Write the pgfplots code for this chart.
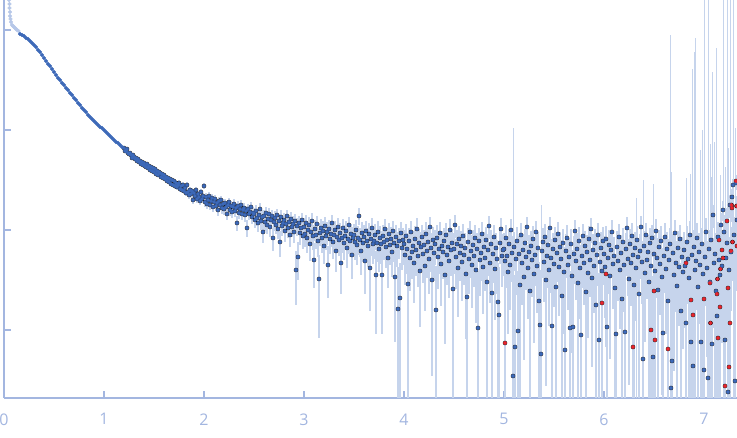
\documentclass[border=0pt]{standalone}
\usepackage{fontspec}
\setmainfont{Open Sans}
\usepackage{pgfplots}
\usepackage{pgfplotstable}
\pgfplotsset{compat=1.18}

\definecolor{axisc}{HTML}{A3B6E0}
\definecolor{ptblue}{HTML}{3D69B8}
\definecolor{ebar}{HTML}{C6D4EC}
\definecolor{faded}{HTML}{B6C7E8}
\definecolor{ptred}{HTML}{E5272F}

% log10 intensity; s = log10 of the error
\pgfplotstableread{
q l
0.050 0.30
0.055 0.26
0.055 0.22
0.060 0.18
0.060 0.14
0.065 0.11
0.070 0.08
0.080 0.05
0.090 0.04
0.100 0.03
0.110 0.02
0.120 0.01
0.130 0.00
0.145 -0.01
}\faded

\pgfplotstableread{
q l
0.16 -0.04
0.18 -0.05
0.20 -0.06
0.22 -0.08
0.24 -0.09
0.26 -0.11
0.28 -0.13
0.30 -0.15
0.32 -0.17
0.34 -0.20
0.36 -0.22
0.38 -0.25
0.40 -0.28
0.42 -0.31
0.44 -0.34
0.46 -0.36
0.48 -0.39
0.50 -0.42
0.52 -0.45
0.54 -0.48
0.56 -0.50
0.58 -0.53
0.60 -0.55
0.62 -0.58
0.64 -0.60
0.66 -0.63
0.68 -0.65
0.70 -0.68
0.72 -0.70
0.74 -0.73
0.76 -0.75
0.78 -0.78
0.80 -0.80
0.82 -0.82
0.84 -0.85
0.86 -0.87
0.88 -0.89
0.90 -0.91
0.92 -0.93
0.94 -0.95
0.96 -0.97
0.98 -0.98
1.00 -1.00
1.02 -1.02
1.04 -1.04
1.06 -1.06
1.08 -1.08
1.10 -1.10
1.12 -1.12
1.14 -1.13
1.16 -1.15
1.18 -1.17
}\lowq

\pgfplotstableread{
q l s
1.20 -1.18 -3.00
1.21 -1.21 -3.00
1.22 -1.21 -3.00
1.23 -1.19 -3.00
1.24 -1.23 -3.00
1.25 -1.24 -3.00
1.26 -1.23 -3.00
1.27 -1.25 -3.00
1.28 -1.28 -3.00
1.29 -1.25 -3.00
1.30 -1.27 -3.00
1.31 -1.29 -3.00
1.32 -1.28 -3.00
1.33 -1.31 -3.00
1.34 -1.29 -3.00
1.35 -1.32 -3.00
1.36 -1.31 -3.00
1.37 -1.34 -3.00
1.38 -1.32 -3.00
1.39 -1.35 -3.00
1.40 -1.33 -2.85
1.41 -1.36 -2.85
1.42 -1.37 -2.85
1.43 -1.34 -2.85
1.44 -1.38 -2.85
1.45 -1.36 -2.85
1.46 -1.40 -2.85
1.47 -1.37 -2.85
1.48 -1.41 -2.85
1.49 -1.38 -2.85
1.50 -1.42 -2.85
1.51 -1.39 -2.85
1.52 -1.44 -2.85
1.53 -1.41 -2.85
1.54 -1.45 -2.85
1.55 -1.42 -2.85
1.56 -1.43 -2.85
1.57 -1.47 -2.85
1.58 -1.44 -2.85
1.59 -1.48 -2.85
1.60 -1.45 -2.85
1.61 -1.49 -2.85
1.62 -1.47 -2.85
1.63 -1.51 -2.85
1.64 -1.48 -2.85
1.65 -1.52 -2.85
1.66 -1.49 -2.85
1.67 -1.54 -2.85
1.68 -1.50 -2.85
1.69 -1.55 -2.85
1.70 -1.51 -2.75
1.71 -1.56 -2.75
1.72 -1.53 -2.75
1.73 -1.57 -2.75
1.74 -1.55 -2.75
1.75 -1.53 -2.75
1.76 -1.59 -2.75
1.77 -1.56 -2.75
1.78 -1.60 -2.75
1.79 -1.55 -2.75
1.80 -1.61 -2.75
1.81 -1.58 -2.75
1.82 -1.63 -2.75
1.83 -1.55 -2.75
1.84 -1.62 -2.75
1.85 -1.65 -2.75
1.86 -1.60 -2.75
1.87 -1.64 -2.75
1.88 -1.61 -2.75
1.89 -1.70 -2.75
1.90 -1.63 -2.75
1.91 -1.66 -2.75
1.92 -1.60 -2.75
1.93 -1.69 -2.75
1.94 -1.64 -2.75
1.95 -1.67 -2.75
1.96 -1.71 -2.75
1.97 -1.62 -2.75
1.98 -1.69 -2.75
1.99 -1.66 -2.75
2.00 -1.56 -2.70
2.01 -1.72 -2.70
2.02 -1.67 -2.70
2.03 -1.74 -2.70
2.04 -1.70 -2.70
2.05 -1.66 -2.70
2.06 -1.75 -2.70
2.07 -1.71 -2.70
2.08 -1.68 -2.70
2.09 -1.77 -2.70
2.10 -1.72 -2.70
2.11 -1.69 -2.70
2.12 -1.76 -2.70
2.13 -1.73 -2.70
2.14 -1.80 -2.70
2.15 -1.71 -2.70
2.16 -1.75 -2.70
2.17 -1.70 -2.70
2.18 -1.78 -2.70
2.19 -1.74 -2.70
2.20 -1.79 -2.70
2.21 -1.73 -2.70
2.22 -1.77 -2.70
2.23 -1.84 -2.70
2.24 -1.75 -2.70
2.25 -1.72 -2.70
2.26 -1.80 -2.70
2.27 -1.76 -2.70
2.28 -1.82 -2.70
2.29 -1.77 -2.70
2.30 -1.74 -2.70
2.31 -1.81 -2.70
2.32 -1.78 -2.70
2.33 -1.93 -2.70
2.34 -1.76 -2.70
2.35 -1.83 -2.70
2.36 -1.79 -2.70
2.37 -1.75 -2.70
2.38 -1.84 -2.70
2.39 -1.80 -2.70
2.40 -1.78 -2.70
2.41 -1.85 -2.70
2.42 -1.81 -2.70
2.43 -1.98 -2.70
2.44 -1.79 -2.70
2.45 -1.84 -2.70
2.46 -1.82 -2.70
2.47 -1.77 -2.70
2.48 -1.87 -2.70
2.49 -1.83 -2.70
2.50 -1.84 -2.66
2.51 -1.90 -2.66
2.52 -1.81 -2.66
2.53 -1.88 -2.66
2.54 -1.93 -2.66
2.55 -1.85 -2.66
2.56 -1.79 -2.66
2.57 -1.91 -2.66
2.58 -1.87 -2.66
2.59 -2.02 -2.66
2.60 -1.86 -2.66
2.61 -1.92 -2.66
2.62 -1.83 -2.66
2.63 -1.95 -2.66
2.64 -1.89 -2.66
2.65 -1.84 -2.66
2.66 -1.97 -2.66
2.67 -1.90 -2.66
2.68 -1.86 -2.66
2.69 -2.08 -2.66
2.70 -1.92 -2.66
2.71 -1.88 -2.66
2.72 -1.95 -2.66
2.73 -1.85 -2.66
2.74 -1.99 -2.66
2.75 -1.91 -2.66
2.76 -2.12 -2.66
2.77 -1.87 -2.66
2.78 -1.96 -2.66
2.79 -1.93 -2.66
2.80 -1.90 -2.66
2.81 -2.01 -2.66
2.82 -1.94 -2.66
2.83 -1.86 -2.66
2.84 -1.98 -2.66
2.85 -1.92 -2.66
2.86 -2.05 -2.66
2.87 -1.89 -2.66
2.88 -1.97 -2.66
2.89 -1.94 -2.66
2.90 -2.02 -2.66
2.91 -1.91 -2.66
2.92 -2.40 -2.66
2.93 -1.96 -2.66
2.94 -2.27 -2.66
2.95 -1.93 -2.66
2.96 -2.03 -2.66
2.97 -1.98 -2.66
2.98 -1.90 -2.66
2.99 -2.06 -2.66
3.00 -1.97 -2.62
3.01 -2.04 -2.62
3.02 -1.93 -2.62
3.03 -2.08 -2.62
3.04 -2.00 -2.62
3.05 -1.95 -2.62
3.06 -2.14 -2.62
3.07 -2.02 -2.62
3.08 -1.91 -2.62
3.09 -2.06 -2.62
3.10 -2.30 -2.62
3.11 -1.99 -2.62
3.12 -2.05 -2.62
3.13 -1.94 -2.62
3.14 -2.11 -2.62
3.15 -2.49 -2.62
3.16 -2.03 -2.62
3.17 -1.98 -2.62
3.18 -2.08 -2.62
3.19 -2.01 -2.62
3.20 -2.16 -2.62
3.21 -1.96 -2.62
3.22 -2.06 -2.62
3.23 -2.02 -2.62
3.24 -2.35 -2.62
3.25 -1.99 -2.62
3.26 -2.09 -2.62
3.27 -2.04 -2.62
3.28 -1.93 -2.62
3.29 -2.12 -2.62
3.30 -2.05 -2.62
3.31 -2.00 -2.62
3.32 -2.21 -2.62
3.33 -2.07 -2.62
3.34 -1.97 -2.62
3.35 -2.10 -2.62
3.36 -2.03 -2.62
3.37 -2.33 -2.62
3.38 -2.08 -2.62
3.39 -1.98 -2.62
3.40 -2.13 -2.62
3.41 -2.06 -2.62
3.42 -2.01 -2.62
3.43 -2.18 -2.62
3.44 -2.09 -2.62
3.45 -1.95 -2.62
3.46 -2.11 -2.62
3.47 -2.04 -2.62
3.48 -2.25 -2.62
3.49 -2.08 -2.62
3.50 -2.05 -2.58
3.51 -2.12 -2.58
3.52 -2.00 -2.58
3.53 -2.15 -2.58
3.54 -2.08 -2.58
3.55 -1.86 -2.58
3.56 -2.10 -2.58
3.57 -2.21 -2.58
3.58 -2.03 -2.58
3.59 -2.13 -2.58
3.60 -2.07 -2.58
3.61 -2.31 -2.58
3.62 -2.01 -2.58
3.63 -2.11 -2.58
3.64 -2.16 -2.58
3.65 -2.04 -2.58
3.66 -2.38 -2.58
3.67 -2.09 -2.58
3.68 -1.98 -2.58
3.69 -2.14 -2.58
3.70 -2.11 -2.58
3.71 -2.05 -2.58
3.72 -2.45 -2.58
3.73 -2.13 -2.58
3.74 -2.02 -2.58
3.75 -2.19 -2.58
3.76 -2.08 -2.58
3.77 -2.14 -2.58
3.78 -2.45 -2.58
3.79 -2.06 -2.58
3.80 -2.12 -2.58
3.81 -1.99 -2.58
3.82 -2.17 -2.58
3.83 -2.10 -2.58
3.84 -2.28 -2.58
3.85 -2.04 -2.58
3.86 -2.15 -2.58
3.87 -2.09 -2.58
3.88 -2.22 -2.58
3.89 -2.01 -2.58
3.90 -2.13 -2.58
3.91 -2.47 -2.58
3.92 -2.07 -2.58
3.93 -2.16 -2.58
3.94 -2.79 -2.58
3.95 -2.11 -2.58
3.96 -2.68 -2.58
3.97 -2.03 -2.58
3.98 -2.18 -2.58
3.99 -2.10 -2.58
4.00 -2.14 -2.55
4.01 -2.25 -2.55
4.02 -2.06 -2.55
4.03 -2.19 -2.55
4.04 -2.54 -2.55
4.05 -2.11 -2.55
4.06 -2.28 -2.55
4.07 -2.02 -2.55
4.08 -2.22 -2.55
4.09 -2.16 -2.55
4.10 -2.33 -2.55
4.11 -2.09 -2.55
4.12 -2.20 -2.55
4.13 -1.99 -2.55
4.14 -2.26 -2.55
4.15 -2.13 -2.55
4.16 -2.41 -2.55
4.17 -2.17 -2.55
4.18 -2.07 -2.55
4.19 -2.24 -2.55
4.20 -2.15 -2.55
4.21 -2.36 -2.55
4.22 -2.04 -2.55
4.23 -2.21 -2.55
4.24 -2.12 -2.55
4.25 -2.29 -2.55
4.26 -1.97 -2.55
4.27 -2.18 -2.55
4.28 -2.50 -2.55
4.29 -2.10 -2.55
4.30 -2.23 -2.55
4.31 -2.14 -2.55
4.32 -2.80 -2.55
4.33 -2.08 -2.55
4.34 -2.27 -2.55
4.35 -2.19 -2.55
4.36 -2.03 -2.55
4.37 -2.34 -2.55
4.38 -2.16 -2.55
4.39 -2.22 -2.55
4.40 -2.11 -2.55
4.41 -2.45 -2.55
4.42 -2.05 -2.55
4.43 -2.25 -2.55
4.44 -2.17 -2.55
4.45 -2.31 -2.55
4.46 -2.00 -2.55
4.47 -2.20 -2.55
4.48 -2.13 -2.55
4.49 -2.59 -2.55
4.50 -2.19 -2.55
4.51 -1.95 -2.55
4.52 -2.27 -2.55
4.53 -2.14 -2.55
4.54 -2.38 -2.55
4.55 -2.09 -2.55
4.56 -2.23 -2.55
4.57 -2.16 -2.55
4.58 -2.32 -2.55
4.59 -2.06 -2.55
4.60 -2.25 -2.55
4.61 -2.18 -2.55
4.62 -2.44 -2.55
4.63 -2.67 -2.55
4.64 -2.12 -2.55
4.65 -2.29 -2.55
4.66 -2.02 -2.55
4.67 -2.21 -2.55
4.68 -2.35 -2.55
4.69 -2.15 -2.55
4.70 -2.26 -2.55
4.71 -2.08 -2.55
4.72 -2.40 -2.55
4.73 -2.19 -2.55
4.74 -2.98 -2.55
4.75 -2.11 -2.55
4.76 -2.30 -2.55
4.77 -2.23 -2.55
4.78 -2.04 -2.55
4.79 -2.37 -2.55
4.80 -2.17 -2.55
4.81 -2.28 -2.55
4.82 -2.10 -2.55
4.83 -2.52 -2.55
4.84 -2.20 -2.55
4.85 -1.96 -2.55
4.86 -2.33 -2.55
4.87 -2.14 -2.55
4.88 -2.63 -2.55
4.89 -2.24 -2.55
4.90 -2.07 -2.55
4.91 -2.39 -2.55
4.92 -2.18 -2.55
4.93 -2.29 -2.55
4.94 -2.72 -2.55
4.95 -2.85 -2.55
4.96 -2.13 -2.55
4.97 -1.99 -2.55
4.98 -2.26 -2.55
4.99 -2.20 -2.55
5.00 -2.19 -2.54
5.01 -2.31 -2.54
5.02 -2.08 -2.54
5.03 -2.26 -2.54
5.04 -2.42 -2.54
5.05 -2.14 -2.54
5.06 -2.35 -2.54
5.07 -2.00 -2.54
5.08 -2.23 -2.54
5.09 -3.46 -2.54
5.10 -2.17 -2.54
5.11 -3.17 -2.54
5.12 -2.29 -2.54
5.13 -2.11 -2.54
5.14 -3.01 -2.54
5.15 -2.24 -2.54
5.16 -2.55 -2.54
5.17 -2.05 -2.54
5.18 -2.33 -2.54
5.19 -2.20 -2.54
5.20 -2.47 -2.54
5.21 -2.13 -2.54
5.22 -2.27 -2.54
5.23 -1.97 -2.54
5.24 -2.38 -2.54
5.25 -2.22 -2.54
5.26 -2.61 -2.54
5.27 -2.16 -2.54
5.28 -2.30 -2.54
5.29 -2.09 -2.54
5.30 -2.44 -2.54
5.31 -2.25 -2.54
5.32 -2.02 -2.54
5.33 -2.36 -2.54
5.34 -2.18 -2.54
5.35 -2.71 -2.54
5.36 -2.95 -2.54
5.37 -3.24 -2.54
5.38 -2.21 -2.54
5.39 -2.12 -2.54
5.40 -2.32 -2.54
5.41 -2.07 -2.54
5.42 -2.50 -2.54
5.43 -2.26 -2.54
5.44 -2.15 -2.54
5.45 -2.40 -2.54
5.46 -1.98 -2.54
5.47 -2.28 -2.54
5.48 -2.96 -2.54
5.49 -2.19 -2.54
5.50 -2.34 -2.54
5.51 -2.10 -2.54
5.52 -2.57 -2.54
5.53 -2.23 -2.54
5.54 -2.04 -2.54
5.55 -2.37 -2.54
5.56 -2.17 -2.54
5.57 -2.29 -2.54
5.58 -2.66 -2.54
5.59 -2.13 -2.54
5.60 -2.42 -2.54
5.61 -3.20 -2.54
5.62 -2.21 -2.54
5.63 -2.08 -2.54
5.64 -2.35 -2.54
5.65 -2.27 -2.54
5.66 -2.98 -2.54
5.67 -2.14 -2.54
5.68 -2.46 -2.54
5.69 -2.97 -2.54
5.70 -2.24 -2.54
5.71 -2.01 -2.54
5.72 -2.31 -2.54
5.73 -2.19 -2.54
5.74 -2.53 -2.54
5.75 -2.11 -2.54
5.76 -2.38 -2.54
5.77 -3.05 -2.54
5.78 -2.26 -2.54
5.79 -2.06 -2.54
5.80 -2.33 -2.54
5.81 -2.16 -2.54
5.82 -2.62 -2.54
5.83 -2.22 -2.54
5.84 -2.43 -2.54
5.85 -2.09 -2.54
5.86 -2.30 -2.54
5.87 -1.99 -2.54
5.88 -2.48 -2.54
5.89 -2.20 -2.54
5.90 -2.36 -2.54
5.91 -2.13 -2.54
5.92 -2.75 -2.54
5.93 -2.25 -2.54
5.94 -2.05 -2.54
5.95 -3.10 -2.54
5.96 -2.32 -2.54
5.97 -2.18 -2.54
5.98 -2.41 -2.54
5.99 -2.11 -2.54
6.00 -2.24 -2.53
6.01 -2.37 -2.53
6.02 -2.09 -2.53
6.03 -2.97 -2.53
6.04 -2.28 -2.53
6.05 -2.15 -2.53
6.06 -2.46 -2.53
6.07 -2.20 -2.53
6.08 -2.02 -2.53
6.09 -2.34 -2.53
6.10 -2.26 -2.53
6.11 -2.58 -2.53
6.12 -3.04 -2.53
6.13 -2.17 -2.53
6.14 -2.31 -2.53
6.15 -2.07 -2.53
6.16 -2.40 -2.53
6.17 -2.23 -2.53
6.18 -2.69 -2.53
6.19 -2.12 -2.53
6.20 -2.35 -2.53
6.21 -3.02 -2.53
6.22 -2.19 -2.53
6.23 -1.98 -2.53
6.24 -2.29 -2.53
6.25 -2.49 -2.53
6.26 -2.14 -2.53
6.27 -2.33 -2.53
6.28 -2.06 -2.53
6.29 -2.25 -2.53
6.30 -2.55 -2.53
6.31 -2.18 -2.53
6.32 -2.38 -2.53
6.33 -2.10 -2.53
6.34 -2.27 -2.53
6.35 -2.64 -2.53
6.36 -2.21 -2.53
6.37 -1.97 -2.53
6.38 -2.32 -2.53
6.39 -3.29 -2.53
6.40 -2.16 -2.53
6.41 -2.43 -2.53
6.42 -2.05 -2.53
6.43 -2.30 -2.53
6.44 -2.22 -2.53
6.45 -2.52 -2.53
6.46 -2.13 -2.53
6.47 -2.36 -2.53
6.48 -2.08 -2.53
6.49 -3.27 -2.53
6.50 -2.24 -2.50
6.51 -2.41 -2.50
6.52 -2.01 -2.50
6.53 -2.28 -2.50
6.54 -2.60 -2.50
6.55 -2.17 -2.50
6.56 -2.34 -2.50
6.57 -2.11 -2.50
6.58 -2.47 -2.50
6.59 -3.03 -2.50
6.60 -2.26 -2.50
6.61 -2.07 -2.50
6.62 -2.39 -2.50
6.63 -2.19 -2.50
6.64 -2.71 -2.50
6.65 -2.30 -2.50
6.66 -2.14 -2.50
6.67 -3.58 -2.50
6.68 -3.31 -2.50
6.69 -2.23 -2.50
6.70 -2.45 -2.50
6.71 -2.03 -2.50
6.72 -2.33 -2.50
6.73 -2.56 -2.50
6.74 -2.18 -2.50
6.75 -2.37 -2.50
6.76 -2.09 -2.50
6.77 -2.81 -2.50
6.78 -2.27 -2.50
6.79 -2.42 -2.50
6.80 -2.20 -2.48
6.81 -2.36 -2.48
6.82 -2.93 -2.48
6.83 -2.12 -2.48
6.84 -2.29 -2.48
6.85 -2.48 -2.48
6.86 -2.05 -2.48
6.87 -3.12 -2.48
6.88 -2.25 -2.48
6.89 -3.36 -2.48
6.90 -2.17 -2.48
6.91 -2.40 -2.48
6.92 -2.31 -2.48
6.93 -2.08 -2.48
6.94 -2.57 -2.48
6.95 -2.22 -2.48
6.96 -2.35 -2.48
6.97 -3.12 -2.48
6.98 -2.14 -2.48
6.99 -2.44 -2.48
7.00 -3.40 -2.44
7.01 -2.27 -2.44
7.02 -2.02 -2.44
7.03 -2.38 -2.44
7.04 -3.48 -2.44
7.05 -2.19 -2.44
7.06 -2.52 -2.44
7.07 -2.10 -2.44
7.08 -3.14 -2.44
7.09 -1.85 -2.44
7.10 -2.33 -2.44
7.11 -2.24 -2.44
7.12 -2.61 -2.44
7.13 -2.86 -2.44
7.14 -2.07 -2.44
7.15 -2.30 -2.44
7.16 -2.45 -2.44
7.17 -1.95 -2.44
7.18 -2.36 -2.44
7.19 -1.80 -2.44
7.20 -2.02 -2.35
7.21 -3.10 -2.35
7.22 -2.28 -2.35
7.23 -2.13 -2.35
7.24 -3.62 -2.35
7.25 -2.40 -2.35
7.26 -1.75 -2.35
7.27 -2.22 -2.35
7.28 -1.67 -2.35
7.29 -1.55 -2.35
7.30 -2.05 -2.35
7.31 -3.51 -2.35
7.32 -1.53 -2.35
7.33 -1.90 -2.35
}\main

\pgfplotstableread{
q l s
5.01 -3.13 -2.54
5.98 -2.73 -2.54
6.02 -2.44 -2.53
6.29 -3.17 -2.53
6.47 -3.00 -2.53
6.50 -2.61 -2.50
6.51 -3.10 -2.50
6.64 -3.19 -2.50
6.82 -2.33 -2.48
6.87 -2.70 -2.48
6.89 -2.85 -2.48
7.00 -2.69 -2.44
7.06 -2.53 -2.44
7.065 -2.93 -2.44
7.13 -2.64 -2.44
7.135 -2.49 -2.44
7.14 -3.08 -2.44
7.15 -2.10 -2.44
7.16 -2.77 -2.44
7.165 -2.39 -2.44
7.18 -2.20 -2.44
7.19 -2.28 -2.44
7.21 -3.56 -2.35
7.23 -1.91 -2.35
7.24 -2.58 -2.35
7.25 -3.37 -2.35
7.26 -2.93 -2.35
7.27 -2.21 -2.35
7.275 -1.75 -2.35
7.28 -1.78 -2.35
7.285 -2.12 -2.35
7.32 -1.51 -2.35
7.325 -1.76 -2.35
7.33 -2.16 -2.35
}\red

% error bars that run far above the points: lower and upper ends
\pgfplotstableread{
q lo hi
5.09 -3.70 -0.98
5.37 -3.70 -1.75
6.32 -3.70 -1.68
6.39 -3.70 -1.50
6.49 -3.70 -1.54
6.66 -3.70 -0.05
6.67 -3.70 -1.42
6.82 -3.70 -1.48
6.86 -3.70 -1.44
6.88 -3.70 -0.39
6.90 -3.70 -0.22
6.91 -3.70 -0.08
6.96 -3.70 -1.20
6.98 -3.70 -1.00
7.00 -3.70 0.40
7.04 -3.70 0.40
7.06 -3.70 -1.14
7.07 -3.70 -1.47
7.08 -3.70 -0.42
7.10 -3.70 -1.12
7.12 -3.70 -0.18
7.16 -3.70 -1.45
7.19 -3.70 0.40
7.21 -3.70 -1.37
7.23 -3.70 0.40
7.24 -3.70 -1.18
7.26 -3.70 0.40
7.29 -3.70 0.40
7.31 -3.70 -0.98
}\tall

\begin{document}
\begin{tikzpicture}
\begin{axis}[
    scale only axis,
    width=733pt, height=398pt,
    xmin=0, xmax=7.33,
    ymin=-3.68, ymax=0.30,
    axis x line=bottom, axis y line=left,
    axis line style={-, draw=axisc, line width=1.2pt},
    xtick={0,1,2,3,4,5,6,7},
    ytick={-3,-2,-1,0}, yticklabels={},
    tick align=inside,
    major tick length=7pt,
    tick style={draw=axisc, line width=1.2pt},
    ticklabel style={font=\fontsize{16}{18}\selectfont, text=axisc},
    xticklabel style={yshift=-12pt},
    /pgf/number format/assume math mode=true,
]
% error bars first, under every point
\addplot[only marks, mark=none, error bars/.cd, y dir=both, y explicit,
    error mark=none, error bar style={draw=ebar, line width=1.4pt}]
    table[x=q, y=l,
      y error plus expr={ln(1+10^(\thisrow{s}-\thisrow{l}))/ln(10)},
      y error minus expr={-ln(max(1-10^(\thisrow{s}-\thisrow{l}),0.0001))/ln(10)}] {\main};
\addplot[only marks, mark=none, error bars/.cd, y dir=both, y explicit,
    error mark=none, error bar style={draw=ebar, line width=1.4pt}]
    table[x=q, y=l,
      y error plus expr={ln(1+10^(\thisrow{s}-\thisrow{l}))/ln(10)},
      y error minus expr={-ln(max(1-10^(\thisrow{s}-\thisrow{l}),0.0001))/ln(10)}] {\red};
\addplot[only marks, mark=none, error bars/.cd, y dir=plus, y explicit,
    error mark=none, error bar style={draw=ebar, line width=1pt}]
    table[x=q, y=lo, y error plus expr={\thisrow{hi}-\thisrow{lo}}] {\tall};
% points
\addplot[only marks, mark=*, color=faded, mark size=1.8pt, line width=0.4pt]
    table[x=q, y=l] {\faded};
\addplot[only marks, mark=*, color=ptblue, mark size=1.8pt, line width=0.4pt]
    table[x=q, y=l] {\lowq};
\addplot[only marks, mark=*, color=ptblue, mark size=1.8pt, line width=0.4pt]
    table[x=q, y=l] {\main};
\addplot[only marks, mark=*, color=ptred, mark size=1.8pt, line width=0.4pt]
    table[x=q, y=l] {\red};
\end{axis}
\pgfresetboundingbox
\path[use as bounding box] (-4pt,-39pt) rectangle (733pt,398pt);
\end{tikzpicture}
\end{document}
